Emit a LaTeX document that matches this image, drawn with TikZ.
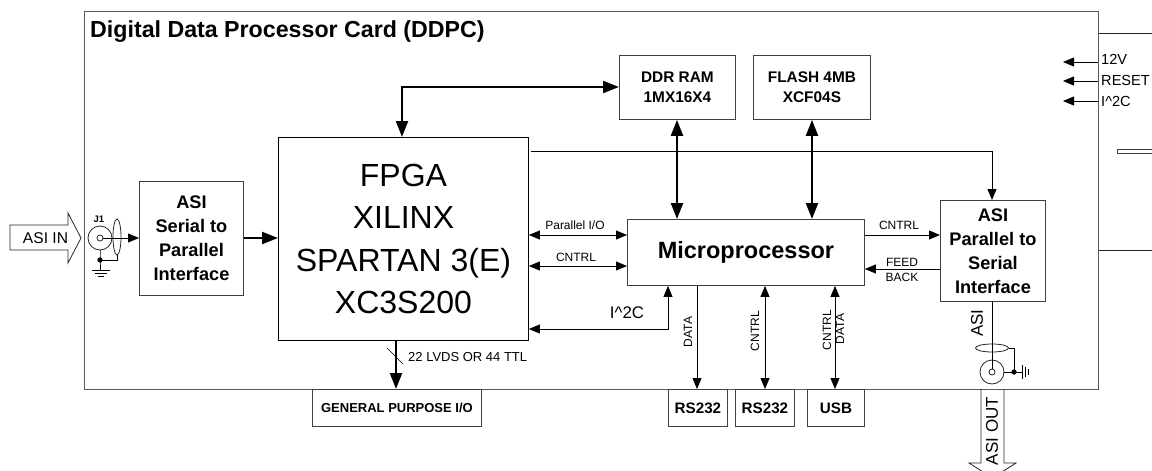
\documentclass[tikz,border=0pt]{standalone}
\usepackage{fontspec}
\setmainfont{Liberation Sans}
\usetikzlibrary{arrows.meta,positioning,calc,shapes.geometric}

\begin{document}
\begin{tikzpicture}[x=1pt,y=-1pt,
  box/.style={draw=black!75, line width=0.9pt, inner sep=0pt, align=center, anchor=north west},
  ioport/.style={box, font=\bfseries\fontsize{15.4}{20}\selectfont},
  titlebox/.style={box, font=\bfseries\fontsize{18.2}{24}\selectfont},
  smallport/.style={box, minimum height=37pt, font=\bfseries\fontsize{15.2}{18}\selectfont},
  lbl/.style={inner sep=0pt, font=\fontsize{12}{14}\selectfont},
  sidelbl/.style={lbl, font=\fontsize{14.6}{16}\selectfont},
  wire/.style={line width=0.8pt},
  arr/.style={-{Triangle[length=11pt,width=9pt]}, line width=0.8pt},
  darr/.style={{Triangle[length=11pt,width=9pt]}-{Triangle[length=11pt,width=9pt]}, line width=0.8pt},
  bigarr/.style={-{Triangle[length=16pt,width=12pt]}, line width=2.3pt},
  dbigarr/.style={{Triangle[length=16pt,width=12pt]}-{Triangle[length=16pt,width=12pt]}, line width=2.3pt},
  coax/.style={draw=black!85, circle, inner sep=0pt, line width=0.8pt},
  shield/.style={draw=black!85, ellipse, inner sep=0pt, line width=0.8pt}]
\useasboundingbox (0,0) rectangle (1152,471);

\draw[black!85, line width=0.9pt] (1152,33) -- (1098,33) -- (1098,250) -- (1152,250);
\draw[black!75, line width=0.9pt] (1152,149) -- (1117,149) -- (1117,153) -- (1152,153);
\node[box, draw=black!65, line width=1.1pt, minimum width=1014pt, minimum height=378pt] (ddpc) at (84,11) {};
\node[anchor=west, inner sep=0pt, font=\bfseries\fontsize{23.2}{26}\selectfont] (cardname) at (90,32) {Digital Data Processor Card (DDPC)};

\node[titlebox, minimum width=104pt, minimum height=114pt] (s2p) at (139,181) {ASI\\Serial to\\Parallel\\Interface};
\node[box, draw=black, minimum width=250pt, minimum height=203pt, font=\fontsize{32}{42.5}\selectfont] (fpga) at (278,137) {FPGA\\XILINX\\SPARTAN 3(E)\\XC3S200};
\node[box, minimum width=237pt, minimum height=66pt, font=\bfseries\fontsize{23.5}{28}\selectfont] (mcu) at (627,219) {Microprocessor};
\node[titlebox, minimum width=105pt, minimum height=101pt] (p2s) at (940,200) {ASI\\Parallel to\\Serial\\Interface};
\node[ioport, minimum width=116pt, minimum height=64pt] (ram) at (619,55) {DDR RAM\\1MX16X4};
\node[ioport, minimum width=117pt, minimum height=64pt] (flash) at (753,55) {FLASH 4MB\\XCF04S};
\node[box, minimum width=169pt, minimum height=37pt, font=\bfseries\fontsize{13}{16}\selectfont] (gpio) at (312,389) {GENERAL PURPOSE I/O};
\node[smallport, minimum width=59pt] (rsa) at (668,389) {RS232};
\node[smallport, minimum width=59pt] (rsb) at (735,389) {RS232};
\node[smallport, minimum width=57pt] (usb) at (807,389) {USB};

% ASI IN side
\draw[black!85, line width=0.8pt] (10,225) -- (68,225) -- (68,213) -- (81,238) -- (68,263) -- (68,250) -- (10,250) -- cycle;
\node[inner sep=0pt, font=\fontsize{15.6}{18}\selectfont] (asiin) at (45.5,238) {ASI IN};
\node[coax, minimum size=24pt] (jin) at (100,238) {};
\node[coax, minimum size=6pt] (jincore) at (100,238) {};
\node[shield, minimum width=8pt, minimum height=36pt] (jinshield) at (117,237) {};
\node[inner sep=0pt, font=\bfseries\fontsize{9.5}{11}\selectfont] (jname) at (99,219) {J1};
\fill (100,260) circle (2.7pt) coordinate (jdot);
\coordinate (gndin) at (100,270);
\draw[wire] (jin.south) -- (jdot) -- (gndin);
\draw[wire] (jdot) -- (117,260) -- (jinshield.south);
\draw[wire] (92,270) -- (110,270) (95,273) -- (107,273) (98,276) -- (104,276);
\draw[arr] (jincore.east) -- (s2p.west |- jincore);
\draw[bigarr] (s2p.east |- 0,238) -- (fpga.west |- 0,238);

% thick buses
\coordinate (fpgatop) at (402,87);
\draw[dbigarr] (fpga.north -| fpgatop) -- (fpgatop) -- (ram.west |- fpgatop);
\draw[dbigarr] (ram.south -| 677,0) -- (mcu.north -| 677,0);
\draw[dbigarr] (flash.south -| 812,0) -- (mcu.north -| 812,0);
\draw[bigarr] (fpga.south -| 396,0) -- (gpio.north -| 396,0);
\draw[line width=0.5pt] (387,348) -- (403,364);
\node[lbl, anchor=west, font=\fontsize{13}{15}\selectfont] (gpiolbl) at (408,357) {22 LVDS OR 44 TTL};

% FPGA to microprocessor
\draw[darr] (fpga.east |- 0,235) -- (mcu.west |- 0,235);
\node[lbl] (parlbl) at (575,225) {Parallel I/O};
\draw[darr] (fpga.east |- 0,266) -- (mcu.west |- 0,266);
\node[lbl] (cntrla) at (576,257) {CNTRL};
\coordinate (i2cbend) at (668,329);
\draw[darr] (fpga.east |- i2cbend) -- (i2cbend) -- (mcu.south -| i2cbend);
\node[lbl, font=\fontsize{16.8}{18}\selectfont] (i2clbl) at (627,313) {I\textasciicircum 2C};

% top line to parallel to serial
\coordinate (topstart) at (531,151);
\coordinate (topbend) at (992,151);
\draw[arr] (topstart) -- (topbend) -- (p2s.north -| topbend);
\draw[arr] (mcu.east |- 0,235) -- (p2s.west |- 0,235);
\node[lbl] (cntrlr) at (899,225) {CNTRL};
\draw[arr] (p2s.west |- 0,269) -- (mcu.east |- 0,269);
\node[lbl] (feedlbl) at (902,262) {FEED};
\node[lbl] (backlbl) at (902,277) {BACK};

% down to connectors
\draw[arr] (mcu.south -| 697,0) -- (rsa.north -| 697,0);
\draw[darr] (mcu.south -| 765,0) -- (rsb.north -| 765,0);
\draw[darr] (mcu.south -| 835,0) -- (usb.north -| 835,0);
\node[lbl, rotate=90] (datalbl) at (688,332) {DATA};
\node[lbl, rotate=90] (cntrlb) at (755,331) {CNTRL};
\node[lbl, rotate=90] (cntrlc) at (827,330) {CNTRL};
\node[lbl, rotate=90] (datalblb) at (840,329) {DATA};

% ASI OUT side
\node[coax, minimum size=24pt] (jout) at (992,372) {};
\node[coax, minimum size=6pt] (joutcore) at (992,372) {};
\node[shield, minimum width=33pt, minimum height=8pt] (joutshield) at (992,348) {};
\draw[wire] (p2s.south -| joutcore) -- (joutcore);
\fill (1014,372) circle (2.7pt) coordinate (joutdot);
\coordinate (gndout) at (1022,372);
\draw[wire] (jout.east) -- (gndout);
\draw[wire] (joutshield.east) -- (1014,348) -- (joutdot);
\draw[wire] (1022,365) -- (1022,379) (1025,367) -- (1025,377) (1028,369) -- (1028,375);
\node[sidelbl, rotate=90, font=\fontsize{17}{18}\selectfont] (asilbl) at (977,323) {ASI};
\draw[black!85, line width=0.8pt] (981,389) -- (981,463) -- (969,463) -- (992.5,478) -- (1016,463) -- (1004,463) -- (1004,389);
\node[sidelbl, rotate=90, font=\fontsize{17}{18}\selectfont] (asiout) at (992,431) {ASI OUT};

% card edge inputs
\draw[arr] (1098,62) -- (1063,62);
\draw[arr] (1098,81) -- (1063,81);
\draw[arr] (1098,101) -- (1063,101);
\node[sidelbl, anchor=west] (vlbl) at (1101,59) {12V};
\node[sidelbl, anchor=west] (rstlbl) at (1101,80) {RESET};
\node[sidelbl, anchor=west] (i2cin) at (1101,101) {I\textasciicircum 2C};
\end{tikzpicture}
\end{document}
